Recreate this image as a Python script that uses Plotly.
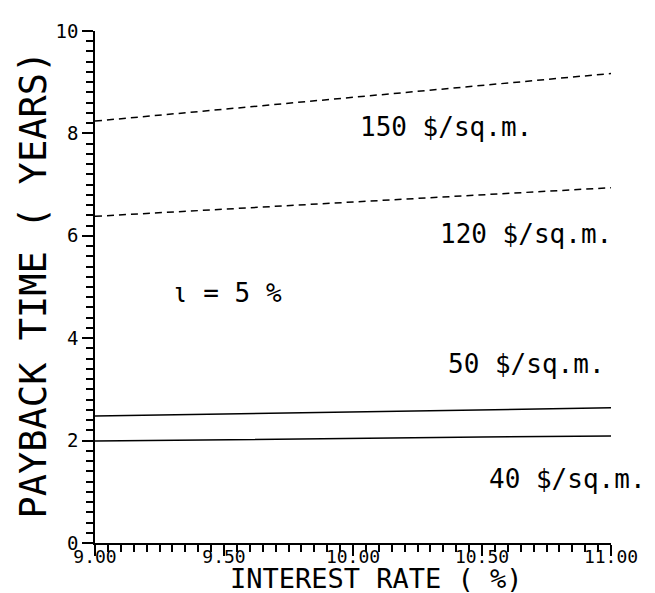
import plotly.graph_objects as go

# Data
interest_rate = [9.0, 9.5, 10.0, 10.5, 11.0]
cost_150 = [8.24, 8.47, 8.70, 8.94, 9.17]
cost_120 = [6.38, 6.52, 6.66, 6.80, 6.94]
cost_50 = [2.48, 2.52, 2.56, 2.60, 2.64]
cost_40 = [1.99, 2.02, 2.04, 2.07, 2.09]

x_tick_vals = [9.0, 9.5, 10.0, 10.5, 11.0]
x_tick_text = ["9.00", "9.50", "10.00", "10.50", "11.00"]
y_tick_vals = [0, 2, 4, 6, 8, 10]
y_tick_text = ["0", "2", "4", "6", "8", "10"]

labels = ["150 $/sq.m.", "120 $/sq.m.", "ι = 5 %", "50 $/sq.m.", "40 $/sq.m."]
label_x = [10.02, 10.33, 9.29, 10.36, 10.52]
label_y = [8.12, 6.03, 4.88, 3.49, 1.25]

x_title = "INTEREST RATE ( %)"
y_title = "PAYBACK TIME ( YEARS)"

FONT = "DejaVu Sans Mono"

fig = go.Figure()
dash = "7px,5px"
for ys, d in [(cost_150, dash), (cost_120, dash), (cost_50, "solid"), (cost_40, "solid")]:
    fig.add_trace(go.Scatter(x=interest_rate, y=ys, mode="lines",
                             line=dict(color="black", width=1.5, dash=d),
                             showlegend=False, hoverinfo="skip"))

for t, lx, ly in zip(labels, label_x, label_y):
    fig.add_annotation(x=lx, y=ly, text=t, showarrow=False, xanchor="left",
                       yanchor="middle", font=dict(family=FONT, size=26, color="black"))

# axis titles
fig.add_annotation(xref="paper", yref="paper", x=0.546, y=-0.070, text=x_title,
                   showarrow=False, xanchor="center", yanchor="middle", borderpad=0,
                   font=dict(family=FONT, size=27, color="black"))
fig.add_annotation(xref="paper", yref="paper", x=-0.12, y=0.505, text=y_title,
                   showarrow=False, xanchor="center", yanchor="middle", textangle=-90,
                   font=dict(family=FONT, size=37, color="black"))

fig.update_layout(
    width=655, height=593,
    margin=dict(l=87, r=52, t=17, b=58),
    paper_bgcolor="white", plot_bgcolor="white",
    font=dict(family=FONT, color="black"),
)
fig.update_xaxes(
    range=[9, 11], showgrid=False, zeroline=False,
    showline=True, linecolor="black", linewidth=1.5,
    tickmode="array", tickvals=x_tick_vals, ticktext=x_tick_text,
    ticks="outside", ticklen=11, tickwidth=1.5, tickcolor="black",
    ticklabelstandoff=-14,
    minor=dict(dtick=0.05, ticks="outside", ticklen=7, tickwidth=1.5, tickcolor="black"),
    tickfont=dict(family=FONT, size=18),
)
fig.update_yaxes(
    range=[0, 10], showgrid=False, zeroline=False,
    showline=True, linecolor="black", linewidth=1.5,
    tickmode="array", tickvals=y_tick_vals, ticktext=y_tick_text,
    ticks="outside", ticklen=11, tickwidth=1.5, tickcolor="black",
    minor=dict(dtick=0.2, ticks="outside", ticklen=7, tickwidth=1.5, tickcolor="black"),
    tickfont=dict(family=FONT, size=19),
)

fig.write_html("out.html")
